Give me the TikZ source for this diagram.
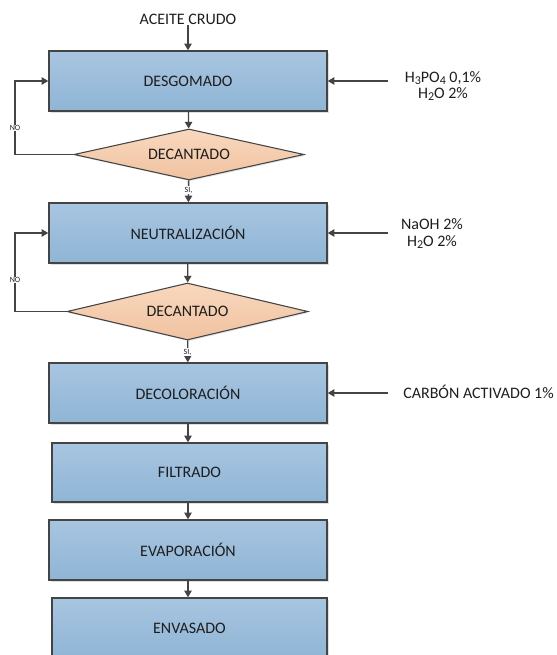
\documentclass[tikz,border=0pt]{standalone}
\usepackage{fontspec}
\setmainfont{Carlito}
\usetikzlibrary{shapes.geometric,arrows.meta,shadows}
\definecolor{boxtop}{RGB}{168,197,224}
\definecolor{boxbot}{RGB}{143,181,214}
\definecolor{dectop}{RGB}{249,216,190}
\definecolor{decbot}{RGB}{240,194,160}
\definecolor{edge}{RGB}{68,68,68}
\definecolor{ink}{RGB}{30,30,30}
\tikzset{
  stagebox/.style={rectangle, draw=edge, line width=1pt, top color=boxtop, bottom color=boxbot,
    inner sep=0pt, text=ink, font=\fontsize{12}{14}\selectfont,
    drop shadow={shadow xshift=1.2pt, shadow yshift=-1.2pt, opacity=0.25, fill=gray}},
  decision/.style={diamond, aspect=4.5, draw=edge, line width=0.8pt, top color=dectop, bottom color=decbot,
    inner sep=0pt, text=ink, font=\fontsize{12}{14}\selectfont,
    drop shadow={shadow xshift=1pt, shadow yshift=-1pt, opacity=0.2, fill=gray}},
  flow/.style={draw=edge, line width=1pt, -{Triangle[width=5.5pt,length=5pt]}},
  plainline/.style={draw=edge, line width=1pt},
  reagent/.style={text=ink, font=\fontsize{12}{14}\selectfont, inner sep=0pt},
  tinylabel/.style={text=ink, font=\fontsize{6}{7}\selectfont, fill=white, inner sep=0.6pt},
}
\newcommand{\smalldigit}[1]{\raisebox{-0.25ex}{\fontsize{9}{10}\selectfont #1}}
\begin{document}
\begin{tikzpicture}[x=0.75pt, y=-0.75pt]
\useasboundingbox (0,0) rectangle (556,655);

% process stages
\node[stagebox, minimum width=208.5pt, minimum height=45pt] (desg) at (188,81) {DESGOMADO};
\node[decision, minimum width=172.5pt, minimum height=38.25pt] (dec1) at (189,154.5) {DECANTADO};
\node[stagebox, minimum width=208.5pt, minimum height=45pt] (neut) at (188,233) {NEUTRALIZACIÓN};
\node[decision, minimum width=180.75pt, minimum height=42.75pt] (dec2) at (187.5,311.5) {DECANTADO};
\node[stagebox, minimum width=208.5pt, minimum height=45pt] (deco) at (188,393) {DECOLORACIÓN};
\node[stagebox, minimum width=206.25pt, minimum height=44.25pt] (filt) at (189.5,472.5) {FILTRADO};
\node[stagebox, minimum width=208.5pt, minimum height=45pt] (evap) at (188,550) {EVAPORACIÓN};
\node[stagebox, minimum width=206.25pt, minimum height=45pt] (envs) at (189.5,628) {ENVASADO};

% inputs
\node[reagent] (crudo) at (188,19) {ACEITE CRUDO};
\node[reagent, align=center] (acid) at (443,86) {H\smalldigit{3}PO\smalldigit{4} 0,1\%\\[-1.5pt]H\smalldigit{2}O 2\%};
\node[reagent, align=center] (soda) at (432,233.5) {NaOH 2\%\\[-1.5pt]H\smalldigit{2}O 2\%};
\node[reagent, anchor=west] (carbon) at (403,392) {CARBÓN ACTIVADO 1\%};

\coordinate (acidin) at (388,81);
\coordinate (sodain) at (388,233);
\coordinate (carbin) at (388,393);
\coordinate (loopx) at (15,0);

% main flow
\draw[flow] (crudo) -- (desg);
\draw[flow] (desg) -- (dec1);
\draw[flow] (dec1) -- (neut);
\draw[flow] (neut) -- (dec2);
\draw[flow] (dec2) -- (deco);
\draw[flow] (deco.south) -- (filt.north -| deco.south);
\draw[flow] (filt.south -| deco.south) -- (evap.north -| deco.south);
\draw[flow] (evap.south) -- (envs.north -| evap.south);

% side inputs
\draw[flow] (acidin) -- (desg.east);
\draw[flow] (sodain) -- (neut.east);
\draw[flow] (carbin) -- (deco.east);

% recycle loops
\draw[flow] (dec1.west) -- (dec1.west -| loopx) |- (desg.west);
\draw[flow] (dec2.west) -- (dec2.west -| loopx) |- (neut.west);

% branch labels
\node[tinylabel] (no1) at (15,128) {NO};
\node[tinylabel] (no2) at (15,280) {NO};
\node[tinylabel] (si1) at (188.5,190) {SI,};
\node[tinylabel] (si2) at (187.5,352) {SI,};
\end{tikzpicture}
\end{document}
